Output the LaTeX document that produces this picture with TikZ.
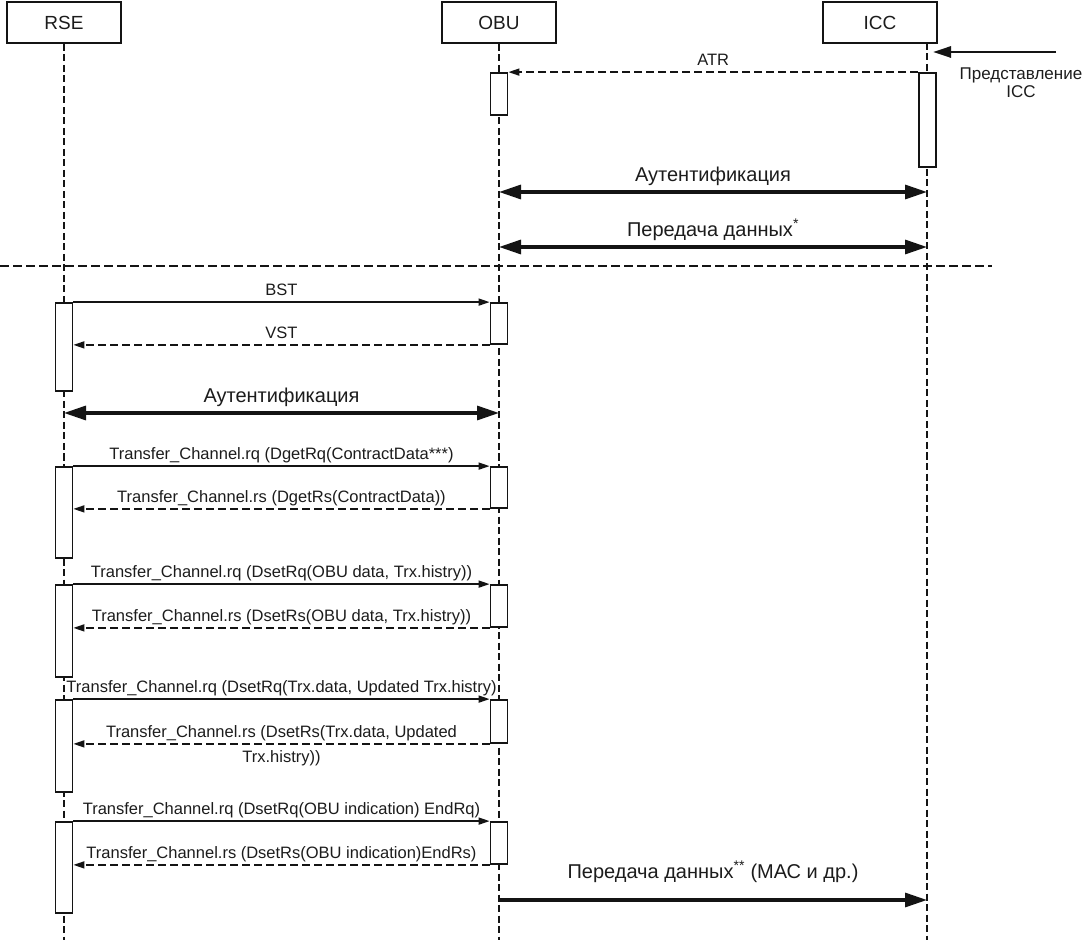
\documentclass[tikz,border=0pt]{standalone}
\usepackage{fontspec}
\setmainfont{Liberation Sans}
\usetikzlibrary{arrows.meta,calc}
\definecolor{txt}{RGB}{28,28,28}
\definecolor{ln}{RGB}{20,20,20}
\begin{document}
\begin{tikzpicture}[x=1pt,y=-1pt,
  every node/.style={text=txt},
  msgfont/.style={font=\fontsize{16.5}{19}\selectfont},
  bigfont/.style={font=\fontsize{20}{23}\selectfont},
  headbox/.style={draw=ln, line width=2pt, minimum width=114pt, minimum height=41pt, inner sep=0pt, font=\fontsize{19}{22}\selectfont},
  life/.style={draw=ln, line width=1.9pt, dash pattern=on 7pt off 3.5pt},
  sepline/.style={draw=ln, line width=1.6pt, dash pattern=on 9pt off 4pt},
  act/.style={draw=ln, fill=white, line width=1.8pt, minimum width=17pt, inner sep=0pt},
  msg/.style={draw=ln, line width=1.6pt, -{Triangle[length=11pt,width=7pt]}},
  ret/.style={msg, dash pattern=on 8pt off 4pt},
  big/.style={draw=ln, line width=3.2pt, {Triangle[length=22pt,width=14pt]}-{Triangle[length=22pt,width=14pt]}},
  bigone/.style={draw=ln, line width=3.2pt, -{Triangle[length=22pt,width=14pt]}},
  lbl/.style={msgfont, midway, above=6pt, inner sep=0pt, text depth=0pt},
  lblb/.style={msgfont, midway, below=6pt, inner sep=0pt, text height=11.8pt, text depth=0pt},
  blbl/.style={bigfont, midway, above=9pt, inner sep=0pt, text depth=0pt}
]
\useasboundingbox (0,0) rectangle (1088,941);
\fill[white] (0,0) rectangle (1088,941);

% heads
\node[headbox] (rse) at (64,22.5) {RSE};
\node[headbox] (obu) at (499,22.5) {OBU};
\node[headbox] (icc) at (880,22.5) {ICC};

% lifelines
\coordinate (rseB) at (64,940);
\coordinate (obuB) at (499,940);
\coordinate (iccT) at (927,43);
\coordinate (iccB) at (927,940);
\draw[life] (rse.south) -- (rseB);
\draw[life] (obu.south) -- (obuB);
\draw[life] (iccT) -- (iccB);

% separator
\coordinate (sepL) at (0,266);
\coordinate (sepR) at (992,266);
\draw[sepline] (sepL) -- (sepR);

% activations
\node[act, minimum height=42pt] (oa0) at (499,94) {};
\node[act, minimum height=94pt] (ia) at (927.5,120) {};
\node[act, minimum height=88pt] (ra1) at (64,347) {};
\node[act, minimum height=91pt] (ra2) at (64,512.5) {};
\node[act, minimum height=92pt] (ra3) at (64,631) {};
\node[act, minimum height=92pt] (ra4) at (64,746) {};
\node[act, minimum height=91pt] (ra5) at (64,867.5) {};
\node[act, minimum height=41pt] (oa1) at (499,323.5) {};
\node[act, minimum height=41pt] (oa2) at (499,487.5) {};
\node[act, minimum height=42pt] (oa3) at (499,606) {};
\node[act, minimum height=43pt] (oa4) at (499,721.5) {};
\node[act, minimum height=42pt] (oa5) at (499,843) {};

% ICC presentation
\coordinate (presS) at (1056,52);
\coordinate (presE) at (933,52);
\draw[draw=ln, line width=2.8pt, -{Triangle[length=18pt,width=11pt]}] (presS) -- (presE);
\node[align=center, font=\fontsize{17}{18}\selectfont, inner sep=0pt] (pres) at (1021,83) {Представление\\ICC};

% messages
\draw[ret] (ia.north west) -- node[lbl] {ATR} (oa0.north east);

\coordinate (a1o) at (499,192);
\coordinate (a1i) at (927,192);
\draw[big] (a1o) -- node[blbl] {Аутентификация} (a1i);

\coordinate (d1o) at (499,247);
\coordinate (d1i) at (927,247);
\draw[big] (d1o) -- node[blbl] {Передача данных\textsuperscript{*}} (d1i);

\draw[msg] (ra1.north east) -- node[lbl] {BST} (oa1.north west);
\draw[ret] (oa1.south west) -- node[lbl] {VST} (oa1.south west -| ra1.east);

\coordinate (a2r) at (64,413);
\coordinate (a2o) at (499,413);
\draw[big] (a2r) -- node[blbl] {Аутентификация} (a2o);

\draw[msg] (ra2.north east) -- node[lbl] {Transfer\_Channel.rq (DgetRq(ContractData***)} (oa2.north west);
\draw[ret] (oa2.south west) -- node[lbl] {Transfer\_Channel.rs (DgetRs(ContractData))} (oa2.south west -| ra2.east);

\draw[msg] (ra3.north east) -- node[lbl] {Transfer\_Channel.rq (DsetRq(OBU data, Trx.histry))} (oa3.north west);
\draw[ret] (oa3.south west) -- node[lbl] {Transfer\_Channel.rs (DsetRs(OBU data, Trx.histry))} (oa3.south west -| ra3.east);

\draw[msg] (ra4.north east) -- node[lbl] {Transfer\_Channel.rq (DsetRq(Trx.data, Updated Trx.histry)} (oa4.north west);
\draw[ret] (oa4.south west) -- node[lbl] {Transfer\_Channel.rs (DsetRs(Trx.data, Updated} node[lblb] {Trx.histry))} (oa4.south west -| ra4.east);

\draw[msg] (ra5.north east) -- node[lbl] {Transfer\_Channel.rq (DsetRq(OBU indication) EndRq)} (oa5.north west);
\draw[ret] (oa5.south west) -- node[lbl] {Transfer\_Channel.rs (DsetRs(OBU indication)EndRs)} (oa5.south west -| ra5.east);

\coordinate (d2o) at (499,900);
\coordinate (d2i) at (927,900);
\draw[bigone] (d2o) -- node[blbl, above=11pt] {Передача данных\textsuperscript{**} (МАС и др.)} (d2i);
\end{tikzpicture}
\end{document}
